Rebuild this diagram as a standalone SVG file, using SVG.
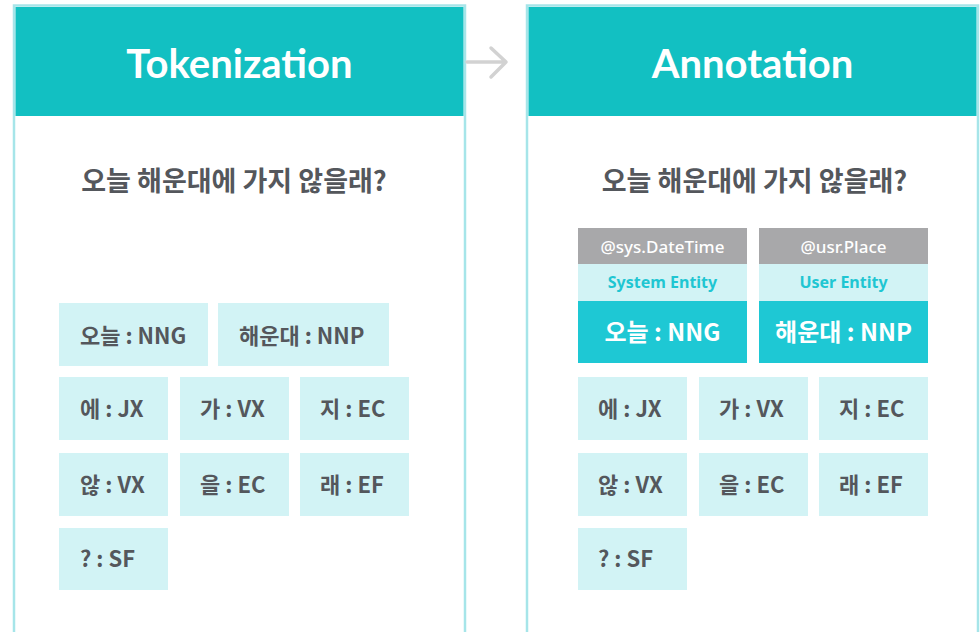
<svg xmlns="http://www.w3.org/2000/svg" width="980" height="632" viewBox="0 0 980 632">
<style>
.panel{fill:#ffffff;stroke:#a6e5e9;stroke-width:2.5}
.hdr{fill:#12c0c2}
.htxt{font-family:"Lato","Noto Sans",sans-serif;font-weight:700;font-size:40px;fill:#ffffff;text-anchor:middle}
.sub{font-family:"Noto Sans CJK KR","Noto Sans",sans-serif;font-weight:700;font-size:27px;fill:#54575c;text-anchor:middle}
.tok{fill:#d2f3f5}
.ttxt{font-family:"Noto Sans CJK KR","Noto Sans",sans-serif;font-weight:700;font-size:22px;fill:#54575c}
.gray{fill:#a8a8aa}
.gtxt{font-family:"Noto Sans","Noto Sans CJK KR",sans-serif;font-weight:500;font-size:17px;fill:#ffffff;text-anchor:middle}
.etxt{font-family:"Noto Sans","Noto Sans CJK KR",sans-serif;font-weight:700;font-size:16px;fill:#1fc6d2;text-anchor:middle}
.teal{fill:#1ec8d4}
.wtxt{font-family:"Noto Sans CJK KR","Noto Sans",sans-serif;font-weight:700;font-size:24px;fill:#ffffff;text-anchor:middle}
.conn{fill:none;stroke:#d2d2d2;stroke-width:3.5;stroke-linecap:round;stroke-linejoin:round}
</style>

<g id="tokenization">
  <rect class="panel" x="14" y="5.5" width="451" height="630"/>
  <rect class="hdr" x="15.5" y="7" width="448" height="109"/>
  <text class="htxt" x="239.5" y="78">Tokenization</text>
  <text class="sub" x="234" y="191">오늘 해운대에 가지 않을래?</text>
</g>
<g id="tok-left">
  <g id="l-onul"><rect class="tok" x="59" y="303" width="149" height="63"/><text class="ttxt" x="80" y="344">오늘 : NNG</text></g>
  <g id="l-haeundae"><rect class="tok" x="218" y="303" width="171" height="63"/><text class="ttxt" x="239" y="344">해운대 : NNP</text></g>
  <g id="l-e"><rect class="tok" x="59" y="377" width="109" height="63"/><text class="ttxt" x="80" y="417">에 : JX</text></g>
  <g id="l-ga"><rect class="tok" x="180" y="377" width="109" height="63"/><text class="ttxt" x="200" y="417">가 : VX</text></g>
  <g id="l-ji"><rect class="tok" x="300" y="377" width="109" height="63"/><text class="ttxt" x="320" y="417">지 : EC</text></g>
  <g id="l-an"><rect class="tok" x="59" y="453" width="109" height="63"/><text class="ttxt" x="80" y="493">않 : VX</text></g>
  <g id="l-eul"><rect class="tok" x="180" y="453" width="109" height="63"/><text class="ttxt" x="200" y="493">을 : EC</text></g>
  <g id="l-rae"><rect class="tok" x="300" y="453" width="109" height="63"/><text class="ttxt" x="320" y="493">래 : EF</text></g>
  <g id="l-q"><rect class="tok" x="59" y="528" width="109" height="62"/><text class="ttxt" x="80" y="567">? : SF</text></g>
</g>

<g id="annotation">
  <rect class="panel" x="527" y="5.5" width="451" height="630"/>
  <rect class="hdr" x="528.5" y="7" width="448" height="109"/>
  <text class="htxt" x="752.5" y="78">Annotation</text>
  <text class="sub" x="754.5" y="191">오늘 해운대에 가지 않을래?</text>
</g>
<g id="ent-datetime">
  <rect class="gray" x="578" y="228" width="169" height="36"/>
  <text class="gtxt" x="662.5" y="253">@sys.DateTime</text>
  <rect class="tok" x="578" y="264" width="169" height="37"/>
  <text class="etxt" x="662.5" y="288">System Entity</text>
  <rect class="teal" x="578" y="301" width="169" height="62"/>
  <text class="wtxt" x="662.5" y="341">오늘 : NNG</text>
</g>
<g id="ent-place">
  <rect class="gray" x="759" y="228" width="169" height="36"/>
  <text class="gtxt" x="843.5" y="253">@usr.Place</text>
  <rect class="tok" x="759" y="264" width="169" height="37"/>
  <text class="etxt" x="843.5" y="288">User Entity</text>
  <rect class="teal" x="759" y="301" width="169" height="62"/>
  <text class="wtxt" x="843.5" y="341">해운대 : NNP</text>
</g>
<g id="tok-right">
  <g id="r-e"><rect class="tok" x="578" y="377" width="109" height="63"/><text class="ttxt" x="598" y="417">에 : JX</text></g>
  <g id="r-ga"><rect class="tok" x="699" y="377" width="109" height="63"/><text class="ttxt" x="719" y="417">가 : VX</text></g>
  <g id="r-ji"><rect class="tok" x="819" y="377" width="109" height="63"/><text class="ttxt" x="839" y="417">지 : EC</text></g>
  <g id="r-an"><rect class="tok" x="578" y="453" width="109" height="63"/><text class="ttxt" x="598" y="493">않 : VX</text></g>
  <g id="r-eul"><rect class="tok" x="699" y="453" width="109" height="63"/><text class="ttxt" x="719" y="493">을 : EC</text></g>
  <g id="r-rae"><rect class="tok" x="819" y="453" width="109" height="63"/><text class="ttxt" x="839" y="493">래 : EF</text></g>
  <g id="r-q"><rect class="tok" x="578" y="528" width="109" height="62"/><text class="ttxt" x="598" y="567">? : SF</text></g>
</g>

<g id="connectors">
  <path class="conn" d="M467 62 H506 M491 48 L506 62 L491 77"/>
</g>
</svg>
